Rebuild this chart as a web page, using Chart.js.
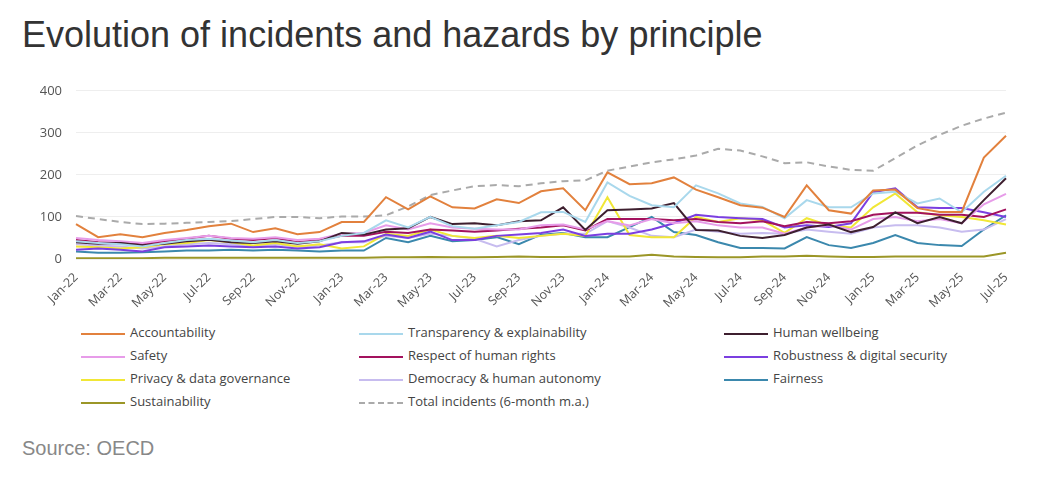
<!DOCTYPE html>
<html>
<head>
<meta charset="utf-8">
<script src="https://cdn.jsdelivr.net/npm/chart.js@4"></script>
<style>
  body { margin: 0; background: #fff; width: 1058px; height: 504px; position: relative; overflow: hidden; }
  #title { position: absolute; left: 22px; top: 14px; font: 36px "Liberation Sans", Arial, sans-serif; color: #333; white-space: nowrap; }
  #wrap { position: absolute; left: 0; top: 69px; width: 1030px; height: 250px; }
  #legend { position: absolute; left: 0; top: 322px; font: 13px "Open Sans", sans-serif; color: #444; }
  #legend div { position: absolute; height: 21px; line-height: 21px; white-space: nowrap; }
  #legend span { display: inline-block; width: 44px; height: 0; vertical-align: middle; margin-right: 5px; border-top: 2px solid; }
  #source { position: absolute; left: 22px; top: 437px; font: 20px "Liberation Sans", Arial, sans-serif; color: #888; }
</style>
</head>
<body>
<div id="title">Evolution of incidents and hazards by principle</div>
<div id="wrap"><canvas id="chart"></canvas></div>
<div id="legend"></div>
<div id="source">Source: OECD</div>
<script>
const months = ['Jan-22','Feb-22','Mar-22','Apr-22','May-22','Jun-22','Jul-22','Aug-22','Sep-22','Oct-22','Nov-22','Dec-22',
   'Jan-23','Feb-23','Mar-23','Apr-23','May-23','Jun-23','Jul-23','Aug-23','Sep-23','Oct-23','Nov-23','Dec-23',
   'Jan-24','Feb-24','Mar-24','Apr-24','May-24','Jun-24','Jul-24','Aug-24','Sep-24','Oct-24','Nov-24','Dec-24',
   'Jan-25','Feb-25','Mar-25','Apr-25','May-25','Jun-25','Jul-25']

const accountability = [83,52,59,52,62,69,78,84,64,73,59,64, 88,88,147,118,149,123,120,142,133,161,168,116,
   206,178,180,194,165,147,128,122,100,175,116,108, 163,165,121,112,112,241,293]
const transparency = [42,38,35,30,38,45,48,44,40,45,38,42, 55,62,92,75,100,78,72,80,88,111,112,88,
   182,150,128,123,175,156,132,124,97,140,123,123, 156,160,132,144,111,160,198]
const wellbeing = [40,36,38,33,36,42,46,40,38,42,36,42, 62,58,70,73,100,83,85,80,90,92,123,69,
   116,118,120,133,69,68,55,50,57,75,82,64, 76,111,85,100,85,140,192]
const safety = [50,45,42,38,45,50,55,50,48,52,45,48, 60,62,80,70,85,75,72,70,70,80,82,70,
   90,80,95,85,90,80,75,75,60,75,80,70, 95,100,90,95,85,130,155]
const humanRights = [45,40,38,35,42,48,55,48,45,50,40,45, 55,55,65,62,70,68,65,68,72,75,80,68,
   95,95,95,92,95,88,85,90,78,88,85,90, 105,110,110,105,105,100,118]
const robustness = [22,25,22,18,28,30,32,30,28,30,25,28, 40,42,58,50,65,45,45,55,58,62,70,55,
   60,60,70,85,105,100,97,95,75,80,76,85, 159,168,123,121,121,111,100]
const privacy = [30,28,25,28,35,38,45,40,32,38,30,35, 25,30,60,55,70,55,50,55,50,55,60,55,
   147,57,52,52,100,88,97,92,62,97,80,75, 123,156,111,104,100,92,82]
const democracy = [35,32,30,25,30,35,38,35,30,35,30,32, 40,40,55,50,60,55,48,30,45,55,60,60,
   90,75,55,52,70,65,60,62,60,70,65,60, 75,80,80,75,65,70,95]
const fairness = [18,15,15,16,18,20,20,22,20,22,20,18, 20,20,50,40,55,42,45,52,35,58,62,52,
   52,76,100,64,57,40,26,26,25,52,33,26, 38,57,38,33,31,70,104]
const sustainability = [2,2,2,2,3,3,3,3,3,3,3,3, 3,3,4,4,5,4,4,5,6,5,5,6,
   6,6,10,6,5,4,4,6,6,8,6,5, 5,6,6,6,6,6,15]
const totalMA = [102,95,88,83,84,86,88,90,95,100,100,97, 101,101,104,125,152,163,173,176,173,180,185,187,
   210,220,230,237,246,262,258,244,228,230,220,212, 210,240,270,295,317,334,348]

const yTicks = [0, 100, 200, 300, 400]

// legend order is row by row, three columns
const series = [
   { label: 'Accountability', data: accountability, color: '#e2813d' },
   { label: 'Transparency & explainability', data: transparency, color: '#a9d8ec' },
   { label: 'Human wellbeing', data: wellbeing, color: '#3e1f2f' },
   { label: 'Safety', data: safety, color: '#e79ce9' },
   { label: 'Respect of human rights', data: humanRights, color: '#a3125e' },
   { label: 'Robustness & digital security', data: robustness, color: '#7b3fe0' },
   { label: 'Privacy & data governance', data: privacy, color: '#f1e736' },
   { label: 'Democracy & human autonomy', data: democracy, color: '#c7bcef' },
   { label: 'Fairness', data: fairness, color: '#3b88ad' },
   { label: 'Sustainability', data: sustainability, color: '#9b9627' },
   { label: 'Total incidents (6-month m.a.)', data: totalMA, color: '#aaaaaa', dash: [7, 5] }
]

const datasets = series.map(s => ({
   label: s.label,
   data: s.data,
   borderColor: s.color,
   backgroundColor: s.color,
   borderWidth: 2,
   borderDash: s.dash || [],
   pointRadius: 0,
   tension: 0,
   fill: false
}))

// html legend, 3 columns
const colLeft = [81, 359, 724]
const legend = document.getElementById('legend')
series.forEach((s, i) => {
   const item = document.createElement('div')
   item.style.left = colLeft[i % 3] + 'px'
   item.style.top = Math.floor(i / 3) * 23 + 'px'
   const line = document.createElement('span')
   line.style.borderTopColor = s.color
   if (s.dash) line.style.borderTopStyle = 'dashed'
   item.appendChild(line)
   item.appendChild(document.createTextNode(s.label))
   legend.appendChild(item)
})

new Chart(document.getElementById('chart'), {
   type: 'line',
   data: { labels: months, datasets: datasets },
   options: {
      responsive: true,
      maintainAspectRatio: false,
      animation: false,
      layout: { padding: { top: 0, right: 24, bottom: 0, left: 0 } },
      plugins: { legend: { display: false }, tooltip: { enabled: false } },
      scales: {
         x: {
            grid: { display: false },
            border: { display: false },
            ticks: {
               autoSkip: false,
               minRotation: 45,
               maxRotation: 45,
               color: '#555',
               font: { family: 'Open Sans', size: 12.5 },
               callback: (v, i) => i % 2 === 0 ? months[i] : ''
            },
            afterFit: s => { s.height = 60 }
         },
         y: {
            min: 0,
            max: 400,
            afterBuildTicks: s => { s.ticks = yTicks.map(v => ({ value: v })) },
            grid: { color: '#eeeeee', drawTicks: false },
            border: { display: false },
            ticks: { color: '#555', padding: 14, font: { family: 'Open Sans', size: 13 } },
            afterFit: s => { s.width = 76 }
         }
      }
   }
})
</script>
</body>
</html>
